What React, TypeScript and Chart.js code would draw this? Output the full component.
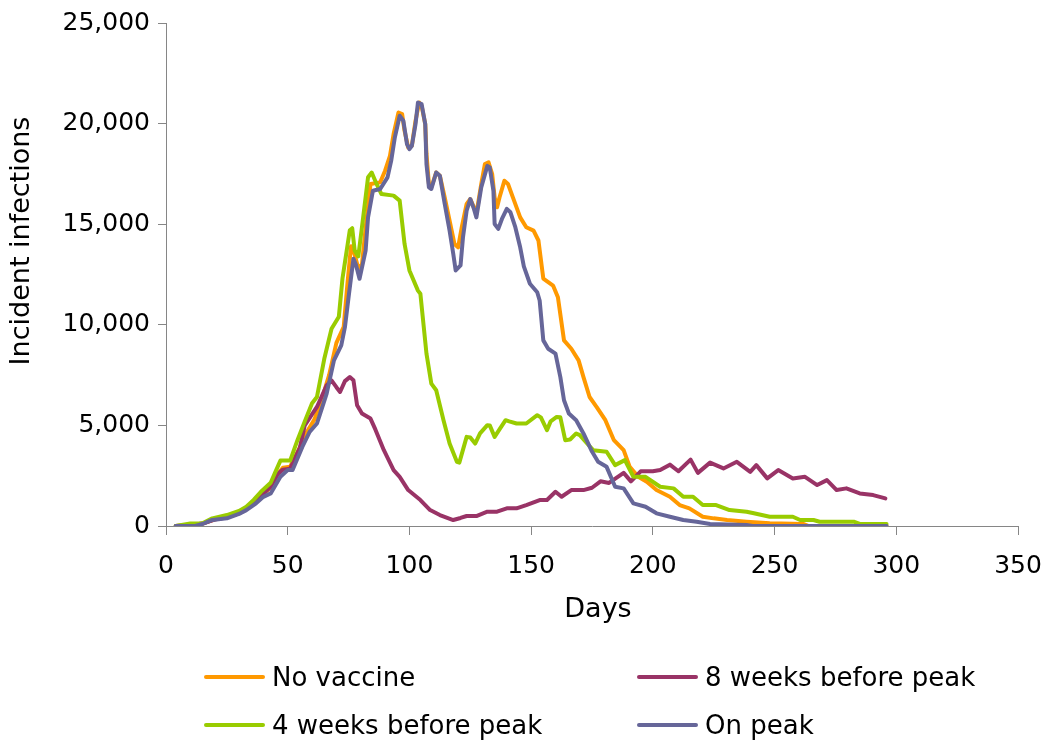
import React, { useEffect, useRef } from "react";
import { Chart, registerables } from "chart.js";

Chart.register(...registerables);

// ---- Data ----
const seriesNames = ["No vaccine", "8 weeks before peak", "4 weeks before peak", "On peak"];
const seriesColors = ["#FF9900", "#993366", "#99CC00", "#666699"];
const xAxisTitle = "Days";
const yAxisTitle = "Incident infections";

const xTickValues = [0, 50, 100, 150, 200, 250, 300, 350];
const yTickValues = [0, 5000, 10000, 15000, 20000, 25000];

const noVaccineDays = [4,10,15,20,25,30,33,36,39,43,46,48,51,55,58,61,64,67,70,73,74.5,76,77.5,79,80.5,82,84,88,90,92,93.5,95.5,97,98,99.5,101,102.5,104,105,106.5,107,108,109,111,112.5,114.5,116.5,118.5,120,121.5,123.5,125,126.5,127.5,129.5,131,132.5,134,135,136,137,139,140.5,142.5,145.5,148,151,153,155,159,161,163.5,166.5,169.5,171.5,174,177,180.5,184,188,190.5,194,197.5,201.5,207,211,215,220.5,225,230.5,238.5,248,262,264,296];
const noVaccineCases = [0,50,120,330,450,650,850,1150,1500,1900,2600,2900,2950,3900,4700,5300,6300,7500,9100,9900,12000,13900,13500,12800,13000,14800,17000,17080,17660,18400,19480,20550,20470,19640,18810,18900,20140,21050,20880,19970,18490,17000,16830,17570,17410,16330,15180,14020,13850,14850,16010,16250,15840,15510,17000,17990,18070,17490,16330,15840,16330,17160,17000,16330,15340,14850,14680,14190,12300,11950,11370,9226,8810,8230,7400,6410,5900,5258,4266,3770,2940,2445,2197,1786,1453,1040,878,461,380,298,213,134,100,0,0];

const eightWeeksDays = [4,10,15,20,25,30,33,36,39,43,46,48,51,55,57,62,66,68,70,71.5,73.5,75.5,77,78.5,80.5,84,86,89.5,93.5,96,99.5,104.5,108.5,112.5,118,121,123.5,127.5,132,136,140,144,148,153.5,156.5,160,162.5,166.5,171.5,175,178.5,182,188,191,195,200,203,207,210.5,215.5,218.5,223.5,229,234.5,240,242.5,247,251.5,257.5,262.5,267.5,271.5,275.5,279.5,285,290.5,295.5];
const eightWeeksCases = [0,50,120,320,430,630,830,1130,1500,1950,2600,2800,2850,3900,5000,5917,6990,7240,6900,6660,7200,7400,7240,6000,5590,5340,4800,3770,2780,2445,1786,1290,794,546,298,400,496,496,710,710,878,878,1040,1290,1290,1700,1453,1786,1786,1900,2220,2140,2640,2220,2720,2720,2780,3050,2720,3300,2640,3150,2860,3190,2693,3026,2366,2780,2366,2445,2034,2280,1786,1870,1620,1538,1374];

const fourWeeksDays = [4,10,15,19,25,30,33,36,39,43,45,47,51,54,57,60,62,65,68,71,72.5,74,75.5,76.5,77.5,79,81,83,84.5,86.5,88.5,93.5,96,98,100,103.5,104.5,107,109,111,114,116.5,119.5,120.5,123.5,125,127,129,132,133,135,137,139.5,141,144,148,152.5,154,156.5,158,160.5,162,164,166,168.5,170,173,175.5,181,184.5,188.5,192,197,203,208.5,212.5,216.5,220.5,226,231.5,238.5,241.5,248,257.5,260.5,266,268.5,282.5,285,296];
const fourWeeksCases = [0,130,130,380,545,750,960,1300,1700,2150,2700,3250,3250,4266,5200,6100,6410,8300,9800,10400,12300,13500,14700,14800,13700,13400,15340,17330,17570,17000,16500,16420,16170,14020,12700,11700,11540,8566,7078,6746,5258,4102,3190,3150,4430,4400,4100,4600,5010,5000,4430,4800,5258,5200,5094,5094,5506,5400,4760,5200,5420,5400,4266,4300,4600,4514,4100,3770,3690,3026,3274,2445,2445,1950,1870,1453,1453,1040,1040,794,710,630,461,461,298,298,213,213,100,100];

const onPeakDays = [4,12,15,19,25,30,33,37,40,43,47,50,52,56,59,62,66,69,72,73.5,75,77,78,79.5,82,83,85,88,91,92.5,94,96,97.5,99,100,101,102.5,103.5,105,106.5,107,108,109,111,112.5,114.5,116.5,118,119,121,122,123.5,125,126.5,127.5,129.5,132,133,134.5,135,136.5,138,140,141.5,143.5,145.5,147,149.5,152.5,153.5,155,157,160,162,163.5,165.5,168.5,171.5,175,177.5,181,184.5,188,192,197,201.5,207,212.5,218,223.5,238.5,241,296];
const onPeakCases = [0,0,100,300,380,600,790,1126,1450,1620,2445,2780,2780,3930,4680,5094,6580,8230,8980,9880,11373,13278,13000,12286,13690,15341,16666,16750,17330,18150,19310,20390,20140,18980,18730,18900,19970,21050,20970,19970,17990,16830,16750,17570,17410,16010,14680,13530,12700,12950,14350,15670,16250,15760,15340,16830,17900,17820,16670,15010,14770,15260,15760,15590,14850,13850,12900,12040,11620,11210,9226,8810,8566,7400,6250,5590,5258,4600,3700,3190,2940,1950,1870,1126,957,630,461,298,213,100,50,0,0];

const seriesDays = [noVaccineDays, eightWeeksDays, fourWeeksDays, onPeakDays];
const seriesCases = [noVaccineCases, eightWeeksCases, fourWeeksCases, onPeakCases];
// drawing order: lower = on top
const seriesDrawOrder = [3, 2, 1, 0];

const FONT = "'DejaVu Sans', Verdana, sans-serif";
const AXIS_COLOR = "#868686";

function toPoints(days: number[], vals: number[]) {
  return days.map((d, i) => ({ x: d, y: vals[i] }));
}

// Axis titles placed like the reference (y title sits above the plot centre)
const axisTitlesPlugin = {
  id: "axisTitles",
  afterDraw(chart: any) {
    const { ctx } = chart;
    ctx.save();
    ctx.fillStyle = "#000";
    ctx.font = `27px ${FONT}`;
    ctx.textAlign = "center";
    ctx.textBaseline = "middle";
    ctx.fillText(xAxisTitle, 598, 610);
    ctx.translate(22, 241);
    ctx.rotate(-Math.PI / 2);
    ctx.fillText(yAxisTitle, 0, 0);
    ctx.restore();
  },
};

export default function App() {
  const ref = useRef<HTMLCanvasElement>(null);

  useEffect(() => {
    if (!ref.current) return;
    const chart = new Chart(ref.current, {
      type: "line",
      data: {
        datasets: seriesNames.map((name, i) => ({
          label: name,
          data: toPoints(seriesDays[i], seriesCases[i]),
          borderColor: seriesColors[i],
          backgroundColor: seriesColors[i],
          borderWidth: 4,
          pointRadius: 0,
          pointHoverRadius: 0,
          tension: 0,
          fill: false,
          borderJoinStyle: "round" as const,
          borderCapStyle: "round" as const,
          order: seriesDrawOrder[i],
        })),
      },
      plugins: [axisTitlesPlugin],
      options: {
        animation: false,
        responsive: false,
        maintainAspectRatio: false,
        events: [],
        layout: { padding: { left: 0, top: 23, right: 32, bottom: 21 } },
        plugins: {
          legend: { display: false },
          tooltip: { enabled: false },
          title: { display: false },
        },
        scales: {
          x: {
            type: "linear",
            min: 0,
            max: 350,
            afterBuildTicks: (s: any) => {
              s.ticks = xTickValues.map((v) => ({ value: v }));
            },
            afterFit: (s: any) => {
              s.height = 200;
              s.paddingRight = 0;
              s.paddingLeft = 0;
            },
            grid: {
              display: true,
              drawOnChartArea: false,
              drawTicks: true,
              tickLength: 9,
              color: AXIS_COLOR,
            },
            border: { display: true, color: AXIS_COLOR, width: 1 },
            ticks: {
              color: "#000",
              font: { family: FONT, size: 25 },
              padding: 16,
              maxRotation: 0,
              autoSkip: false,
            },
            title: { display: false },
          },
          y: {
            type: "linear",
            min: 0,
            max: 25000,
            afterBuildTicks: (s: any) => {
              s.ticks = yTickValues.map((v) => ({ value: v }));
            },
            afterFit: (s: any) => {
              s.width = 166;
            },
            grid: {
              display: true,
              drawOnChartArea: false,
              drawTicks: true,
              tickLength: 8,
              color: AXIS_COLOR,
            },
            border: { display: true, color: AXIS_COLOR, width: 1 },
            ticks: {
              color: "#000",
              font: { family: FONT, size: 25 },
              padding: 8,
              callback: (v: any) => Number(v).toLocaleString("en-US"),
            },
            title: { display: false },
          },
        },
      },
    });
    return () => chart.destroy();
  }, []);

  const legendPos = [
    { left: 204, top: 677 },
    { left: 637, top: 677 },
    { left: 204, top: 725 },
    { left: 637, top: 725 },
  ];

  return (
    <div
      style={{
        position: "absolute",
        left: 0,
        top: 0,
        width: 1050,
        height: 747,
        background: "#fff",
        overflow: "hidden",
      }}
    >
      <canvas
        ref={ref}
        width={1050}
        height={747}
        style={{ display: "block", width: 1050, height: 747 }}
      />
      {seriesNames.map((name, i) => (
        <div
          key={name}
          style={{
            position: "absolute",
            left: legendPos[i].left,
            top: legendPos[i].top - 16,
            height: 32,
            display: "flex",
            alignItems: "center",
            whiteSpace: "nowrap",
            fontFamily: FONT,
            fontSize: 26,
            color: "#000",
          }}
        >
          <div
            style={{
              width: 61,
              height: 4,
              background: seriesColors[i],
              borderRadius: 2,
              marginRight: 7,
            }}
          />
          <span style={{ lineHeight: "32px" }}>{name}</span>
        </div>
      ))}
    </div>
  );
}
